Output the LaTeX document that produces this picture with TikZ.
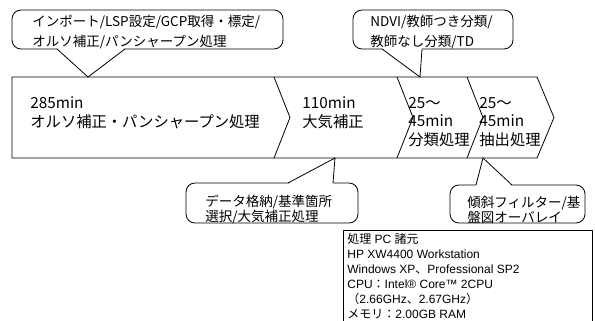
\documentclass[tikz,border=0pt]{standalone}
\usepackage{fontspec}
\setmainfont{Noto Sans CJK JP}
\newfontfamily\arialf{Liberation Sans}
\newfontfamily\jpf{Noto Sans CJK JP}
\begin{document}
\begin{tikzpicture}[x=1pt,y=-1pt,line width=0.8pt,
  bubble/.style={draw,fill=white,rounded corners=9pt,inner sep=0pt},
  tx/.style={anchor=base west,inner sep=0pt,font=\fontsize{15.3}{18}\selectfont},
  ctx/.style={anchor=base west,inner sep=0pt,font=\fontsize{13.5}{16}\selectfont},
  stx/.style={anchor=base west,inner sep=0pt,font=\fontsize{12}{14}\selectfont\arialf},
]
\useasboundingbox (0,0) rectangle (595,321);

% callout bodies
\node[bubble,minimum width=271pt,minimum height=39pt] (c1) at (147.5,29.5) {};
\node[bubble,minimum width=160pt,minimum height=39pt] (c2) at (433,29.5) {};
\node[bubble,minimum width=172pt,minimum height=40pt] (c3) at (272,203) {};
\node[bubble,minimum width=135pt,minimum height=38pt] (c4) at (517.5,204) {};

% pointer tips
\coordinate (t1) at (88,77);
\coordinate (t2) at (420,77);
\coordinate (t3) at (335,158);
\coordinate (t4) at (483,158);

% pointers
\fill[white] (57,48) -- (t1) -- (125,48) -- cycle;
\draw (57,49) -- (t1) -- (125,49);
\fill[white] (382,48) -- (t2) -- (422,48) -- cycle;
\draw (382,49) -- (t2) -- (422,49);
\fill[white] (288,184) -- (t3) -- (333,184) -- cycle;
\draw (288,183) -- (t3) -- (333,183);
\fill[white] (476,186) -- (t4) -- (512,186) -- cycle;
\draw (476,185) -- (t4) -- (512,185);

% main process arrow
\draw (12,77) -- (537,77) -- (554,117.5) -- (537,158) -- (12,158) -- cycle;
\draw (274,77) -- (290,117.5) -- (274,158);
\draw (397,77) -- (413,117.5) -- (397,158);
\draw (467,77) -- (483,117.5) -- (467,158);

% stage texts
\node[tx] (s1a) at (30,108.5) {285min};
\node[tx] (s1b) at (30,127.5) {オルソ補正・パンシャープン処理};
\node[tx] (s2a) at (302,108.5) {110min};
\node[tx] (s2b) at (302,127.5) {大気補正};
\node[tx] (s3a) at (408,108.5) {25～};
\node[tx] (s3b) at (408,127) {45min};
\node[tx] (s3c) at (408,145.5) {分類処理};
\node[tx] (s4a) at (479,108.5) {25～};
\node[tx] (s4b) at (479,127) {45min};
\node[tx] (s4c) at (479,145.5) {抽出処理};

% callout texts
\node[ctx] (c1a) at (32,27) {インポート/LSP設定/GCP取得・標定/};
\node[ctx] (c1b) at (32,47) {オルソ補正/パンシャープン処理};
\node[ctx] (c2a) at (370,27) {NDVI/教師つき分類/};
\node[ctx] (c2b) at (370,47) {教師なし分類/TD};
\node[ctx] (c3a) at (205,206) {データ格納/基準箇所};
\node[ctx] (c3b) at (205,221) {選択/大気補正処理};
\node[ctx] (c4a) at (467,207) {傾斜フィルター/基};
\node[ctx] (c4b) at (467,222) {盤図オーバレイ};

% spec box
\draw (343,330) -- (343,230) -- (592,230) -- (592,330);
\node[stx] (p1) at (347,243.5) {{\jpf 処理} PC {\jpf 諸元}};
\node[stx] (p2) at (347,258.5) {HP XW4400 Workstation};
\node[stx] (p3) at (347,273.5) {Windows XP{\jpf 、}Professional SP2};
\node[stx] (p4) at (347,288.5) {CPU{\jpf ：}Intel® Core™ 2CPU};
\node[stx] (p5) at (347,303.5) {{\jpf （}2.66GHz{\jpf 、}2.67GHz{\jpf ）}};
\node[stx] (p6) at (347,318) {{\jpf メモリ：}2.00GB RAM};
\end{tikzpicture}
\end{document}
